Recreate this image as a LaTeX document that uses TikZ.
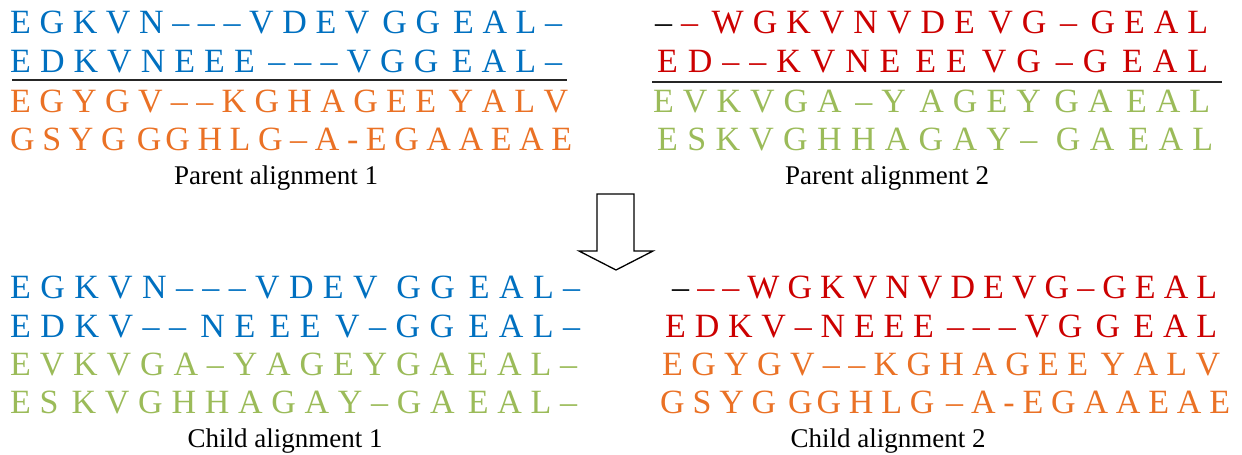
\documentclass[tikz,border=0pt]{standalone}
\usepackage{fontspec}
\setmainfont{Liberation Serif}
\definecolor{seqblue}{HTML}{0070C0}
\definecolor{seqred}{HTML}{CC0000}
\definecolor{seqorange}{HTML}{EA7125}
\definecolor{seqgreen}{HTML}{9BBB59}
\newcommand\gapA{\hskip 0pt plus 1fill\relax}
\newcommand\gapB{\hskip 0pt plus 1.5fill\relax}
\newcommand\gapC{\hskip 0pt plus 2fill\relax}
\newcommand\gapD{\hskip 0pt plus 0.5fill\relax}
\ExplSyntaxOn
\NewDocumentCommand\seqrow{mm}{
  \tl_set:Nn \l_tmpa_tl {#2}
  \tl_replace_all:Nnn \l_tmpa_tl {|} {\gapA}
  \tl_replace_all:Nnn \l_tmpa_tl {;} {\gapB}
  \tl_replace_all:Nnn \l_tmpa_tl {!} {\gapC}
  \tl_replace_all:Nnn \l_tmpa_tl {,} {\gapD}
  \hbox to #1 {\l_tmpa_tl}
}
\ExplSyntaxOff
\newcommand\bk[1]{{\color{black}#1}}
\tikzset{
  seqtext/.style={anchor=base west, inner sep=0pt, font=\fontsize{34}{40}\selectfont},
  caption/.style={anchor=base, inner sep=0pt, font=\fontsize{27}{32}\selectfont, text=black},
  divider/.style={line width=2pt, draw=black!85},
  blockarrow/.style={draw=black, line width=1.3pt, fill=white, line join=miter}
}
\begin{document}
\begin{tikzpicture}[x=1pt,y=-1pt]
\useasboundingbox (0,0) rectangle (1242,455);
% ---------- Parent alignment 1 ----------
\node[seqtext, text=seqblue] (tl1) at (10,33) {\seqrow{552pt}{E|G|K|V|N|–|–|–|V|D|E|V;G|G;E|A|L|–}};
\node[seqtext, text=seqblue] (tl2) at (10,72) {\seqrow{552pt}{E|D|K|V|N|E|E|E;–|–|–|V|G|G;E|A|L|–}};
\node[seqtext, text=seqorange] (tl3) at (10,112) {\seqrow{558pt}{E|G|Y|G|V|–|–|K|G|H|A|G|E|E;Y|A|L|V}};
\node[seqtext, text=seqorange] (tl4) at (10,150) {\seqrow{562pt}{G|S|Y|G;G,G|H|L|G|–|A|-|E|G|A|A|E|A|E}};
\coordinate (ul1a) at (12,80);
\coordinate (ul1b) at (567,80);
\draw[divider] (ul1a) -- (ul1b);
\node[caption] (cap1) at (276,184) {Parent alignment 1};
% ---------- Parent alignment 2 ----------
\node[seqtext, text=seqred] (tr1) at (655,33) {\seqrow{553pt}{\bk{–}|–;W|G|K|V|N|V|D|E;V|G;–;G|E|A|L}};
\node[seqtext, text=seqred] (tr2) at (657,72) {\seqrow{551pt}{E|D|–|–|K|V|N|E;E|E;V|G;–|G;E|A|L}};
\node[seqtext, text=seqgreen] (tr3) at (653,112) {\seqrow{557pt}{E|V|K|V|G|A;–|Y;A|G|E|Y;G|A;E|A|L}};
\node[seqtext, text=seqgreen] (tr4) at (657,150) {\seqrow{556pt}{E|S|K|V|G|H|H|A|G|A|Y|–!G|A;E|A|L}};
\coordinate (ul2a) at (652,82);
\coordinate (ul2b) at (1222,82);
\draw[divider] (ul2a) -- (ul2b);
\node[caption] (cap2) at (887,184) {Parent alignment 2};
% ---------- Arrow ----------
\coordinate (a1) at (597,194);
\coordinate (a2) at (634,194);
\coordinate (a3) at (634,251);
\coordinate (a4) at (653,251);
\coordinate (a5) at (616,270);
\coordinate (a6) at (579,251);
\coordinate (a7) at (597,251);
\draw[blockarrow] (a1) -- (a2) -- (a3) -- (a4) -- (a5) -- (a6) -- (a7) -- cycle;
% ---------- Child alignment 1 ----------
\node[seqtext, text=seqblue] (bl1) at (10,298) {\seqrow{570pt}{E|G|K|V|N|–|–|–|V|D|E|V!G|G;E|A|L|–}};
\node[seqtext, text=seqblue] (bl2) at (10,337) {\seqrow{570pt}{E|D|K|V|–|–;N|E;E|E;V|–|G|G;E|A|L|–}};
\node[seqtext, text=seqgreen] (bl3) at (10,375) {\seqrow{567pt}{E|V|K|V|G|A|–|Y|A|G|E|Y|G|A;E|A|L|–}};
\node[seqtext, text=seqgreen] (bl4) at (10,413) {\seqrow{567pt}{E|S;K|V|G|H|H|A|G|A|Y|–|G|A;E|A|L|–}};
\node[caption] (cap3) at (285,447) {Child alignment 1};
% ---------- Child alignment 2 ----------
\node[seqtext, text=seqred] (br1) at (672,298) {\seqrow{545pt}{\bk{–}|–|–|W|G|K|V|N|V|D|E|V|G|–|G|E|A|L}};
\node[seqtext, text=seqred] (br2) at (665,337) {\seqrow{552pt}{E|D|K|V|–|N|E|E|E;–|–|–|V|G;G;E|A|L}};
\node[seqtext, text=seqorange] (br3) at (662,375) {\seqrow{558pt}{E|G|Y|G|V|–|–|K|G|H|A|G|E|E;Y|A|L|V}};
\node[seqtext, text=seqorange] (br4) at (660,413) {\seqrow{570pt}{G|S|Y|G;G,G|H|L|G;–|A|-|E|G|A|A|E|A|E}};
\node[caption] (cap4) at (888,447) {Child alignment 2};
\end{tikzpicture}
\end{document}
